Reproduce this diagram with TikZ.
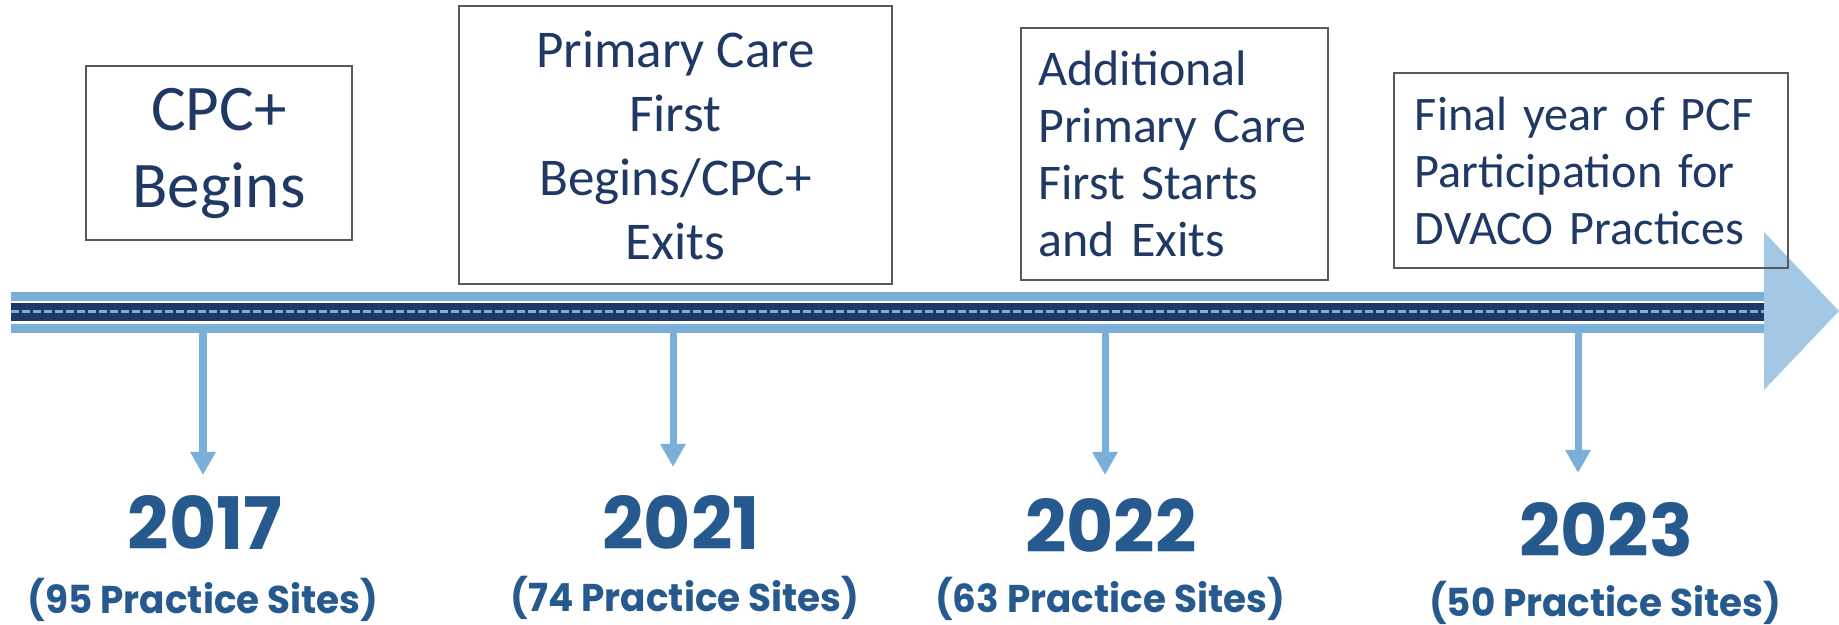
\documentclass[tikz,border=0pt]{standalone}
\usepackage{fontspec}
\usepackage{tikz}
\usetikzlibrary{arrows.meta}
\setmainfont{Carlito}
\newfontfamily\yearfont{Poppins}
\newfontfamily\sitefont[FakeStretch=0.965]{Poppins}

\definecolor{boxtext}{RGB}{31,56,100}
\definecolor{yeartext}{RGB}{38,90,143}
\definecolor{barblue}{RGB}{122,175,218}
\definecolor{headblue}{RGB}{162,200,230}
\definecolor{barnavy}{RGB}{31,56,100}
\definecolor{boxline}{RGB}{89,89,89}

\begin{document}
\begin{tikzpicture}[x=0.01cm, y=-0.01cm,
    event/.style={draw=boxline, line width=0.02cm, text=boxtext, inner sep=0pt},
    drop/.style={barblue, line width=0.07cm, -{Triangle[width=0.24cm, length=0.23cm]}},
    year/.style={text=yeartext, inner sep=0pt, font=\yearfont\bfseries\fontsize{20.6pt}{22pt}\selectfont},
    sites/.style={text=yeartext, inner sep=0pt, font=\sitefont\bfseries\fontsize{11pt}{13pt}\selectfont}]
    \useasboundingbox (0,0) rectangle (1839,625);

    % Timeline bar
    \fill[barblue] (11,292) rectangle (1765,301);
    \fill[barnavy] (11,303) rectangle (1765,321);
    \draw[barblue, line width=0.03cm, dash pattern=on 0.08cm off 0.03cm] (11,312) -- (1765,312);
    \fill[barblue] (11,324) rectangle (1765,333);
    \fill[headblue] (1764,232) -- (1839,311) -- (1764,390) -- cycle;

    % Events
    \node[event, minimum width=2.66cm, minimum height=1.74cm, align=center,
          font=\fontsize{18.5pt}{21.9pt}\selectfont] (cpc) at (219,153) {CPC+\\Begins};
    \node[event, minimum width=4.33cm, minimum height=2.78cm, align=center,
          font=\fontsize{15.1pt}{18.2pt}\selectfont] (pcf) at (675.5,145) {Primary Care\\First\\Begins/CPC+\\Exits};
    \node[event, minimum width=3.07cm, minimum height=2.52cm, text width=2.72cm, align=left,
          font=\fontsize{14.2pt}{16.2pt}\selectfont] (more) at (1174.5,154) {Additional\\Primary Care\\First Starts\\and Exits};
    \node[event, minimum width=3.94cm, minimum height=1.95cm, text width=3.52cm, align=left,
          font=\fontsize{13.7pt}{16.2pt}\selectfont] (final) at (1591,170.5) {Final year of PCF\\Participation for\\DVACO Practices};

    % Drops from the bar
    \coordinate (bar2017) at (203,333);
    \coordinate (bar2021) at (673,333);
    \coordinate (bar2022) at (1105,333);
    \coordinate (bar2023) at (1578,333);
    \coordinate (tip2017) at (203,475);
    \coordinate (tip2021) at (673,467);
    \coordinate (tip2022) at (1105,475);
    \coordinate (tip2023) at (1578,473);
    \draw[drop] (bar2017) -- (tip2017);
    \draw[drop] (bar2021) -- (tip2021);
    \draw[drop] (bar2022) -- (tip2022);
    \draw[drop] (bar2023) -- (tip2023);

    % Years
    \node[year] (y2017) at (205,522.5) {2017};
    \node[year] (y2021) at (681,522.5) {2021};
    \node[year] (y2022) at (1111,525) {2022};
    \node[year] (y2023) at (1606,529.5) {2023};
    \node[sites] (s2017) at (203,599.5) {(95 Practice Sites)};
    \node[sites] (s2021) at (685,597.5) {(74 Practice Sites)};
    \node[sites] (s2022) at (1110,599) {(63 Practice Sites)};
    \node[sites] (s2023) at (1605,602.5) {(50 Practice Sites)};
\end{tikzpicture}
\end{document}
